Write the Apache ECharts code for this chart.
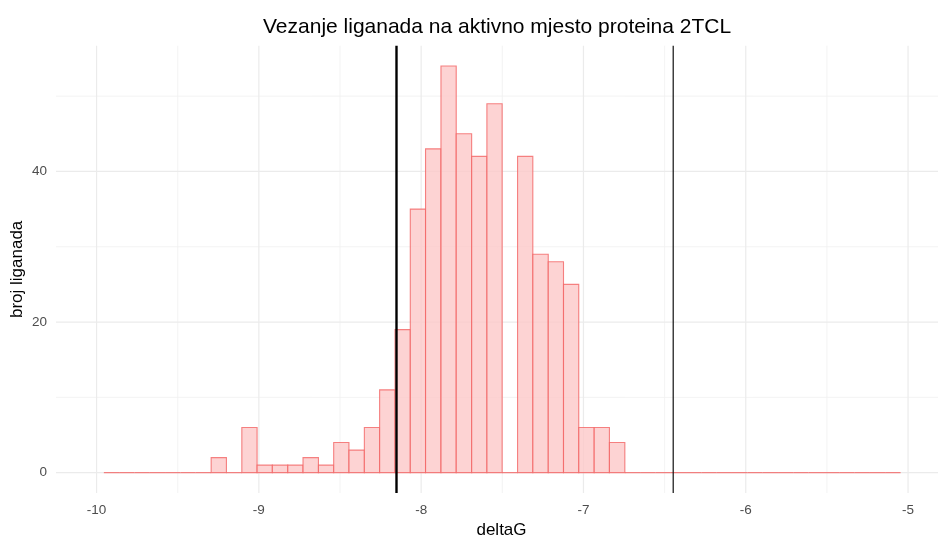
<!DOCTYPE html>
<html>
<head>
<meta charset="utf-8">
<script src="https://cdn.jsdelivr.net/npm/echarts@6/dist/echarts.min.js"></script>
<style>html,body{margin:0;padding:0;background:#fff;overflow:hidden}#c{width:938px;height:538px}</style>
</head>
<body>
<div id="c"></div>
<script>
// Histogram bin edges (deltaG) and counts
const binEdges = [-9.955,-9.861,-9.766,-9.672,-9.578,-9.483,-9.389,-9.294,-9.200,-9.105,
  -9.011,-8.917,-8.822,-8.728,-8.633,-8.539,-8.445,-8.350,-8.256,-8.161,
  -8.067,-7.973,-7.878,-7.784,-7.689,-7.595,-7.501,-7.406,-7.312,-7.217,
  -7.123,-7.029,-6.934,-6.840,-6.745,-6.651,-6.557,-6.462,-6.368,-6.273,
  -6.179,-6.085,-5.990,-5.896,-5.801,-5.707,-5.613,-5.518,-5.424,-5.329,
  -5.235,-5.141,-5.046];
const counts = [0,0,0,0,0,0,0,2,0,6,
  1,1,1,2,1,4,3,6,11,19,
  35,43,54,45,42,49,0,42,29,28,
  25,6,6,4,0,0,0,0,0,0,
  0,0,0,0,0,0,0,0,0,0,
  0,0];
const vLines = [-8.152, -6.447];
const xMajor = [-10,-9,-8,-7,-6,-5];
const xMinor = [-9.5,-8.5,-7.5,-6.5,-5.5];
const yMajor = [0,20,40];
const yMinor = [10,30,50];

const X_MIN = -10.25, X_MAX = -4.76, Y_MIN = -2.7, Y_MAX = 56.7;
const FONT = "'Liberation Sans', Arial, sans-serif";

const bars = counts.map((c, i) => [binEdges[i], binEdges[i+1], c]);

function vGrid(width, color) {
  return function (params, api) {
    const v = api.value(0);
    const a = api.coord([v, Y_MIN]), b = api.coord([v, Y_MAX]);
    return {type:'line', shape:{x1:a[0], y1:a[1], x2:b[0], y2:b[1]}, style:{stroke:color, lineWidth:width}};
  };
}
function hGrid(width, color) {
  return function (params, api) {
    const v = api.value(1);
    const a = api.coord([X_MIN, v]), b = api.coord([X_MAX, v]);
    return {type:'line', shape:{x1:a[0], y1:a[1], x2:b[0], y2:b[1]}, style:{stroke:color, lineWidth:width}};
  };
}

const chart = echarts.init(document.getElementById('c'), null, {renderer:'canvas'});
chart.setOption({
  animation:false,
  backgroundColor:'#ffffff',
  title:{
    text:'Vezanje liganada na aktivno mjesto proteina 2TCL',
    left:258, top:12,
    textStyle:{fontFamily:FONT, fontSize:21, fontWeight:'normal', color:'#000'}
  },
  grid:{left:56, right:-9, top:45.7, bottom:45, containLabel:false, outerBoundsMode:'none'},
  xAxis:{
    type:'value', min:X_MIN, max:X_MAX,
    name:'deltaG', nameLocation:'middle', nameGap:29, nameMoveOverlap:false,
    nameTextStyle:{fontFamily:FONT, fontSize:17, color:'#000'},
    axisLine:{show:false}, axisTick:{show:false}, splitLine:{show:false},
    axisLabel:{
      showMinLabel:false, showMaxLabel:false, margin:10,
      fontFamily:FONT, fontSize:13.5, color:'#4d4d4d',
      formatter: v => (xMajor.some(m => Math.abs(m - v) < 1e-6) ? String(Math.round(v)) : '')
    }
  },
  yAxis:{
    type:'value', min:Y_MIN, max:Y_MAX, splitNumber:3,
    name:'broj liganada', nameLocation:'middle', nameGap:30, nameMoveOverlap:false,
    nameTextStyle:{fontFamily:FONT, fontSize:17, color:'#000'},
    axisLine:{show:false}, axisTick:{show:false}, splitLine:{show:false},
    axisLabel:{
      showMinLabel:false, showMaxLabel:false, margin:9,
      fontFamily:FONT, fontSize:13.5, color:'#4d4d4d',
      formatter: v => (yMajor.some(m => Math.abs(m - v) < 1e-6) ? String(Math.round(v)) : '')
    }
  },
  series:[
    {type:'custom', z:1, silent:true, data:xMinor.map(v => [v, 0]), renderItem:vGrid(0.8, '#f0f0f0'), encode:{x:0, y:1}},
    {type:'custom', z:1, silent:true, data:yMinor.map(v => [X_MIN, v]), renderItem:hGrid(0.8, '#f0f0f0'), encode:{x:0, y:1}},
    {type:'custom', z:1, silent:true, data:xMajor.map(v => [v, 0]), renderItem:vGrid(1.2, '#ebebeb'), encode:{x:0, y:1}},
    {type:'custom', z:1, silent:true, data:yMajor.map(v => [X_MIN, v]), renderItem:hGrid(1.2, '#ebebeb'), encode:{x:0, y:1}},
    {
      type:'custom', z:2, data:bars, encode:{x:[0,1], y:2},
      renderItem:function (params, api) {
        const p0 = api.coord([api.value(0), api.value(2)]);
        const p1 = api.coord([api.value(1), 0]);
        return {type:'rect',
          shape:{x:p0[0], y:p0[1], width:p1[0]-p0[0], height:p1[1]-p0[1]},
          style:{fill:'rgba(252,200,200,0.8)', stroke:'rgba(242,100,100,0.8)', lineWidth:1.1}};
      }
    },
    {
      type:'custom', z:3, silent:true, data:vLines.map(v => [v, 0]), encode:{x:0, y:1},
      renderItem:function (params, api) {
        const v = api.value(0);
        const a = api.coord([v, Y_MIN]), b = api.coord([v, Y_MAX]);
        return {type:'line', shape:{x1:a[0], y1:a[1], x2:b[0], y2:b[1]},
          style:{stroke: params.dataIndex === 0 ? '#000' : '#111', lineWidth: params.dataIndex === 0 ? 2.4 : 1.2}};
      }
    }
  ]
});
</script>
</body>
</html>
